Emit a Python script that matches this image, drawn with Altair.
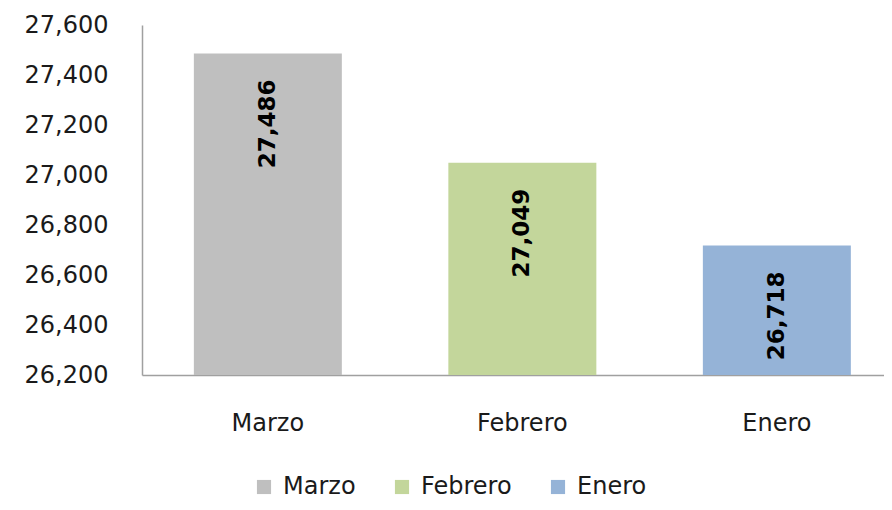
import altair as alt
import pandas as pd

months = ["Marzo", "Febrero", "Enero"]
values = [27486, 27049, 26718]
colors = ["#bfbfbf", "#c3d69b", "#95b3d7"]
y_ticks = [26200, 26400, 26600, 26800, 27000, 27200, 27400, 27600]

df = pd.DataFrame({"Mes": months, "Valor": values})

FONT = "DejaVu Sans"

x = alt.X("Mes:N", sort=months, title=None,
          scale=alt.Scale(paddingInner=0.4185, paddingOuter=0.167, align=0.61),
          axis=alt.Axis(labelAngle=0, labelFontSize=24, labelFont=FONT, labelColor="#1a1a1a",
                        labelPadding=36, ticks=False, domainColor="#a0a0a0", domainWidth=1.5))
y = alt.Y("Valor:Q", title=None,
          scale=alt.Scale(domain=[26200, 27600], zero=False, nice=False),
          axis=alt.Axis(values=y_ticks, format=",d", labelFontSize=24, labelFont=FONT,
                        labelColor="#1a1a1a", labelPadding=34, ticks=False, grid=False,
                        domainColor="#a0a0a0", domainWidth=1.5))

bars = alt.Chart(df).mark_bar().encode(
    x=x,
    y=y,
    y2=alt.datum(26200),
    color=alt.Color("Mes:N", sort=months,
                    scale=alt.Scale(domain=months, range=colors),
                    legend=alt.Legend(title=None, orient="none", direction="horizontal",
                                      legendX=110, legendY=450, symbolType="square",
                                      symbolSize=200, symbolStrokeWidth=0, labelFontSize=24,
                                      labelFont=FONT, labelColor="#1a1a1a", labelOffset=7,
                                      columnPadding=34)),
)

labels = alt.Chart(df).mark_text(angle=270, align="right", baseline="middle", dx=-26,
                                 fontSize=23, fontWeight="bold", font=FONT, color="#000000").encode(
    x=alt.X("Mes:N", sort=months),
    y=alt.Y("Valor:Q"),
    text=alt.Text("Valor:Q", format=","),
)

chart = (bars + labels).properties(
    width=742, height=350,
    autosize=alt.AutoSizeParams(type="none"),
    padding={"left": 134, "top": 17, "right": 0, "bottom": 125},
).configure_view(stroke=None)

chart.save("out.html", embed_options={"renderer": "svg", "actions": False})
